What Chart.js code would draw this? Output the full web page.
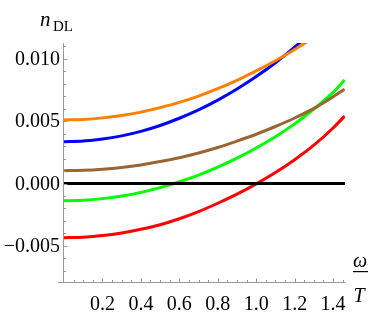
<!DOCTYPE html>
<html>
<head>
<meta charset="utf-8">
<script src="https://cdn.jsdelivr.net/npm/chart.js@4"></script>
<style>
  body { margin: 0; background: #fff; }
</style>
</head>
<body>
<canvas id="myCanvas" width="374" height="319"></canvas>
<script>
const omega = [0, 0.1, 0.2, 0.3, 0.4, 0.5, 0.6, 0.7, 0.8, 0.9, 1.0, 1.1, 1.2, 1.3, 1.4, 1.46];
const nOrange = [0.0051, 0.00514, 0.00526, 0.00545, 0.00572, 0.00608, 0.0065, 0.00701, 0.0076, 0.00827, 0.00902, 0.00984, 0.01074, 0.01172, 0.01284, 0.0137];
const nBlue = [0.00335, 0.0034, 0.00356, 0.00382, 0.00418, 0.00465, 0.00523, 0.0059, 0.00668, 0.00757, 0.00857, 0.00968, 0.01093, 0.0123, 0.0138, 0.0149];
const nBrown = [0.00103, 0.00106, 0.00115, 0.00129, 0.00149, 0.00176, 0.00207, 0.00245, 0.00289, 0.0034, 0.00395, 0.00457, 0.00525, 0.00602, 0.00695, 0.00755];
const nGreen = [-0.00138, -0.00134, -0.00121, -0.001, -0.00071, -0.00033, 0.00014, 0.00068, 0.00131, 0.00203, 0.00285, 0.00375, 0.00478, 0.00597, 0.0073, 0.0083];
const nRed = [-0.00434, -0.0043, -0.00417, -0.00396, -0.00367, -0.0033, -0.00282, -0.00225, -0.00158, -0.00085, -0.00003, 0.00088, 0.00191, 0.00307, 0.00445, 0.0054];
const nZero = [0, 0];

const xTicks = [0.2, 0.4, 0.6, 0.8, 1.0, 1.2, 1.4];
const xTickLabels = ["0.2", "0.4", "0.6", "0.8", "1.0", "1.2", "1.4"];
const yTicks = [0.010, 0.005, 0.000, -0.005];
const yTickLabels = ["0.010", "0.005", "0.000", "\u22120.005"];

const X_MIN = 0, X_MAX = 1.462, Y_MIN = -0.00789, Y_MAX = 0.01126;

function pts(ys) {
    return ys.map((y, i) => ({ x: omega[i], y: y }));
}

function line(data, color) {
    return {
        data: data,
        borderColor: color,
        borderWidth: 3,
        pointRadius: 0,
        fill: false,
        cubicInterpolationMode: "monotone",
        clip: 0
    };
}

// axes, ticks and labels drawn by hand, Mathematica style
const axesPlugin = {
    id: "axes",
    afterDraw(chart) {
        const c = chart.ctx;
        const xs = chart.scales.x, ys = chart.scales.y;
        const left = xs.getPixelForValue(0);
        const bottom = ys.getPixelForValue(Y_MIN);
        const top = ys.getPixelForValue(Y_MAX);
        const right = xs.getPixelForValue(X_MAX);
        c.save();
        c.strokeStyle = "#999";
        c.lineWidth = 1;
        c.beginPath();
        c.moveTo(left - 0.5, top);
        c.lineTo(left - 0.5, bottom);
        c.moveTo(left - 6, bottom + 0.5);
        c.lineTo(right, bottom + 0.5);
        // y minor/major ticks
        for (let k = -7; k <= 11; k++) {
            const v = k * 0.001;
            const py = Math.round(ys.getPixelForValue(v)) + 0.5;
            const len = (k % 5 === 0) ? 4 : 2.5;
            c.moveTo(left - 0.5, py);
            c.lineTo(left - 0.5 + len, py);
        }
        // x minor/major ticks
        for (let k = 1; k <= 29; k++) {
            const v = k * 0.05;
            const px = Math.round(xs.getPixelForValue(v)) + 0.5;
            const len = (k % 4 === 0) ? 4 : 2.5;
            c.moveTo(px, bottom + 0.5);
            c.lineTo(px, bottom + 0.5 - len);
        }
        c.stroke();

        c.fillStyle = "#000";
        c.font = "20px 'Liberation Serif'";
        c.textAlign = "right";
        c.textBaseline = "middle";
        yTicks.forEach((v, i) => {
            c.fillText(yTickLabels[i], left - 4, ys.getPixelForValue(v) + 1);
        });
        c.textAlign = "center";
        xTicks.forEach((v, i) => {
            c.fillText(xTickLabels[i], xs.getPixelForValue(v), bottom + 23);
        });

        // y title n_DL
        c.textAlign = "left";
        c.textBaseline = "alphabetic";
        c.font = "italic 21px 'Liberation Serif'";
        c.fillText("n", 40, 26);
        c.font = "15px 'Liberation Serif'";
        c.fillText("DL", 53, 31);

        // x title omega / T
        c.textAlign = "center";
        c.font = "italic 20px 'Liberation Serif'";
        c.fillText("\u03c9", 360, 267);
        c.fillRect(353, 271, 15, 1.2);
        c.fillText("T", 359, 302);
        c.restore();
    }
};

const ctx = document.getElementById("myCanvas").getContext("2d");

var chart = new Chart(ctx, {
    type: "line",
    data: {
        datasets: [
            line([{ x: X_MIN, y: nZero[0] }, { x: X_MAX, y: nZero[1] }], "#000000"),
            line(pts(nBrown), "#996633"),
            line(pts(nGreen), "#00ff00"),
            line(pts(nRed), "#ff0000"),
            line(pts(nOrange), "#ff8000"),
            line(pts(nBlue), "#0000ff")
        ]
    },
    options: {
        responsive: false,
        animation: false,
        layout: {
            padding: { top: 43, left: 64, bottom: 37, right: 29 }
        },
        scales: {
            x: { type: "linear", min: X_MIN, max: X_MAX, display: false },
            y: { type: "linear", min: Y_MIN, max: Y_MAX, display: false }
        },
        plugins: {
            legend: { display: false },
            tooltip: { enabled: false }
        }
    },
    plugins: [axesPlugin]
});
</script>
</body>
</html>
